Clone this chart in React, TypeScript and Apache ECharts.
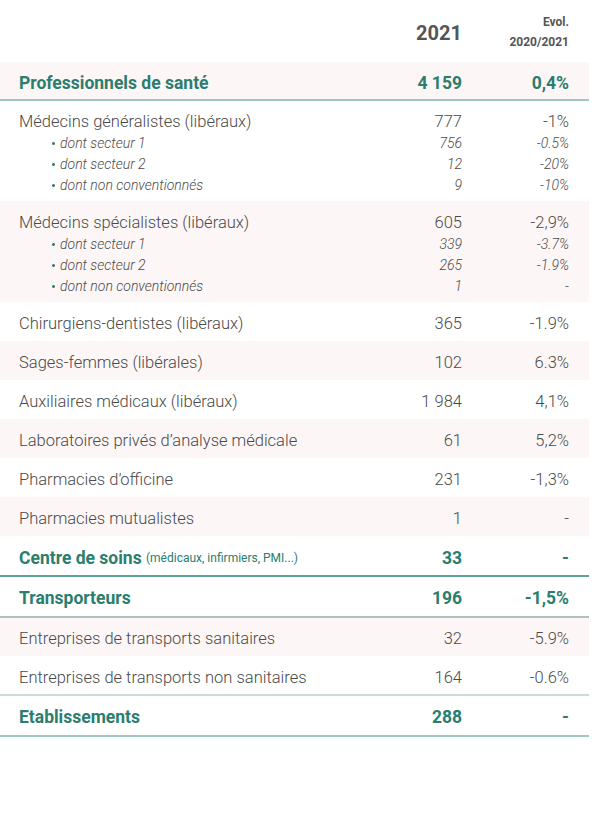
import React, { useEffect, useRef } from "react";
import * as echarts from "echarts";

// ---- Data ----
const headers = ["2021", "Evol.", "2020/2021"];

const labels = [
  "Professionnels de santé",
  "Médecins généralistes (libéraux)",
  "dont secteur 1",
  "dont secteur 2",
  "dont non conventionnés",
  "Médecins spécialistes (libéraux)",
  "dont secteur 1",
  "dont secteur 2",
  "dont non conventionnés",
  "Chirurgiens-dentistes (libéraux)",
  "Sages-femmes (libérales)",
  "Auxiliaires médicaux (libéraux)",
  "Laboratoires privés d’analyse médicale",
  "Pharmacies d’officine",
  "Pharmacies mutualistes",
  "Centre de soins",
  "Transporteurs",
  "Entreprises de transports sanitaires",
  "Entreprises de transports non sanitaires",
  "Etablissements",
];

const values2021 = [
  "4 159", "777", "756", "12", "9", "605", "339", "265", "1",
  "365", "102", "1 984", "61", "231", "1", "33", "196", "32", "164", "288",
];

const evolution = [
  "0,4%", "-1%", "-0.5%", "-20%", "-10%", "-2,9%", "-3.7%", "-1.9%", "-",
  "-1.9%", "6.3%", "4,1%", "5,2%", "-1,3%", "-", "-", "-1,5%", "-5.9%", "-0.6%", "-",
];

// kind: s = section total, m = main item, d = detail (sub item)
const kinds = [
  "s", "m", "d", "d", "d", "m", "d", "d", "d",
  "m", "m", "m", "m", "m", "m", "s", "s", "m", "m", "s",
];

const centreNote = "(médicaux, infirmiers, PMI...)";

// ---- Styles ----
const GREEN = "#2b7d6e";
const TEXT = "#4a4a4a";
const PINK = "#fdf6f6";
const FONT = "Roboto, 'Open Sans', sans-serif";
const X_LABEL = 19;
const X_SUB_BULLET = 52;
const X_SUB_TEXT = 60;
const X_VAL = 462;
const X_EVO = 569;
const RIGHT = 589;
const DY = 1.5;

// shading pattern of rows (styling)
const shadeRows = [0, 5, 6, 7, 8, 10, 12, 14, 17];
// lines below certain rows (styling)
const lineBelow: Record<number, string> = {
  0: "#7fb6aa",
  15: "#2b8674",
  16: "#8fb0a6",
  18: "#b6d5cd",
  19: "#7fb6aa",
};
// heights of section rows (styling)
const sectionHeight: Record<number, number> = { 0: 38, 15: 40, 16: 41, 19: 41 };

function txt(x: number, y: number, text: string, font: string, fill: string, align = "left") {
  return {
    type: "text",
    x,
    y,
    style: { text, align, verticalAlign: "middle", font, fill },
  };
}

function buildGraphics() {
  const els: any[] = [];
  els.push(txt(X_VAL, 33, headers[0], `bold 20px ${FONT}`, "#555555", "right"));
  els.push(txt(X_EVO, 22, headers[1], `bold 12px ${FONT}`, "#555555", "right"));
  els.push(txt(X_EVO, 42, headers[2], `bold 12px ${FONT}`, "#555555", "right"));

  let y = 62;
  let i = 0;
  const bg: any[] = [];
  const fg: any[] = [];
  while (i < labels.length) {
    const k = kinds[i];
    let n = 1;
    while (i + n < labels.length && kinds[i + n] === "d") n++;
    let h: number;
    if (n > 1) h = 21 * n + 17;
    else if (k === "s") h = sectionHeight[i] ?? 40;
    else h = 39;
    const top = y;
    if (shadeRows.includes(i)) {
      bg.push({
        type: "rect",
        shape: { x: 0, y: top, width: RIGHT, height: h },
        style: { fill: PINK },
        silent: true,
      });
    }
    for (let j = 0; j < n; j++) {
      const idx = i + j;
      const kk = kinds[idx];
      const cy = (n > 1 ? top + 20 + 21 * j : top + h / 2) + DY;
      if (kk === "s") {
        const isCentre = idx === 15;
        const bf = `bold 17.5px ${FONT}`;
        if (isCentre) {
          fg.push({
            type: "text",
            x: X_LABEL,
            y: cy,
            style: {
              text: `{b|${labels[idx]}} {n|${centreNote}}`,
              verticalAlign: "middle",
              font: bf,
              fill: GREEN,
              rich: {
                b: { font: bf, fill: GREEN },
                n: { font: `12px ${FONT}`, fill: GREEN },
              },
            },
          });
        } else {
          fg.push(txt(X_LABEL, cy, labels[idx], bf, GREEN));
        }
        fg.push(txt(X_VAL, cy, values2021[idx], bf, GREEN, "right"));
        fg.push(txt(X_EVO, cy, evolution[idx], bf, GREEN, "right"));
      } else if (kk === "m") {
        const f = `300 16.5px ${FONT}`;
        fg.push(txt(X_LABEL, cy, labels[idx], f, TEXT));
        fg.push(txt(X_VAL, cy, values2021[idx], f, TEXT, "right"));
        fg.push(txt(X_EVO, cy, evolution[idx], f, TEXT, "right"));
      } else {
        const f = `italic 300 14px ${FONT}`;
        fg.push({
          type: "circle",
          shape: { cx: X_SUB_BULLET + 1.5, cy: cy + 1, r: 1.5 },
          style: { fill: GREEN },
        });
        fg.push(txt(X_SUB_TEXT, cy, labels[idx], f, TEXT));
        fg.push(txt(X_VAL, cy, values2021[idx], f, TEXT, "right"));
        fg.push(txt(X_EVO, cy, evolution[idx], f, TEXT, "right"));
      }
    }
    y += h;
    const last = i + n - 1;
    if (lineBelow[last]) {
      fg.push({
        type: "line",
        shape: { x1: 0, y1: y, x2: RIGHT, y2: y },
        style: { stroke: lineBelow[last], lineWidth: 1.5 },
      });
    }
    i += n;
  }
  return [...els, ...bg, ...fg];
}

export default function App() {
  const ref = useRef<HTMLDivElement>(null);
  useEffect(() => {
    document.body.style.margin = "0";
    if (!ref.current) return;
    const chart = echarts.init(ref.current, null, { renderer: "svg" });
    chart.setOption({
      animation: false,
      backgroundColor: "#ffffff",
      graphic: { elements: buildGraphics() },
    });
    return () => chart.dispose();
  }, []);
  return (
    <div
      ref={ref}
      style={{ position: "absolute", left: 0, top: 0, width: 609, height: 826 }}
    />
  );
}
